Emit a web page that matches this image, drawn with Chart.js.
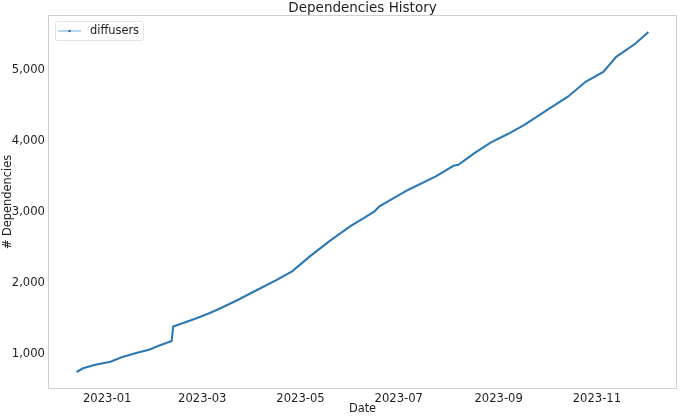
<!DOCTYPE html>
<html>
<head>
<meta charset="utf-8">
<script src="https://cdn.jsdelivr.net/npm/chart.js@4.4.1/dist/chart.umd.min.js"></script>
<style>
  html, body { margin: 0; padding: 0; background: #fff; }
  #wrap { width: 680px; height: 417px; position: relative; }
</style>
</head>
<body>
<div id="wrap"><canvas id="depChart"></canvas></div>
<script>
// values
const dates = [
  '2022-12-13', '2022-12-17', '2022-12-24', '2023-01-03', '2023-01-10',
  '2023-01-19', '2023-01-27', '2023-02-02', '2023-02-10', '2023-02-11',
  '2023-02-19', '2023-02-25', '2023-03-05', '2023-03-12', '2023-03-23',
  '2023-04-04', '2023-04-16', '2023-04-26', '2023-05-07', '2023-05-19',
  '2023-06-01', '2023-06-09', '2023-06-16', '2023-06-19', '2023-07-07',
  '2023-07-24', '2023-08-04', '2023-08-07', '2023-08-17', '2023-08-27',
  '2023-09-07', '2023-09-17', '2023-10-01', '2023-10-14', '2023-10-25',
  '2023-11-05', '2023-11-13', '2023-11-25', '2023-12-03'
];
const dependencies = [
  752, 804, 850, 896, 958,
  1018, 1065, 1121, 1188, 1393,
  1457, 1505, 1575, 1645, 1766,
  1906, 2046, 2173, 2383, 2595,
  2804, 2915, 3014, 3084, 3318,
  3505, 3655, 3669, 3833, 3982,
  4105, 4230, 4440, 4627, 4837,
  4977, 5188, 5376, 5538
];
const seriesName = 'diffusers';
const chartTitle = 'Dependencies History';
const tickDates = ['2023-01-01', '2023-03-01', '2023-05-01', '2023-07-01', '2023-09-01', '2023-11-01'];
const tickLabels = ['2023-01', '2023-03', '2023-05', '2023-07', '2023-09', '2023-11'];
const yTicks = [1000, 2000, 3000, 4000, 5000];

const FONT = 'DejaVu Sans';
const TEXT = '#1e1e1e';
const BLUE = '#1f77b4';
const TICK_SIZE = 11.6;

function toMs(d) {
  const p = d.split('-');
  return Date.UTC(+p[0], +p[1] - 1, +p[2]);
}

const points = dates.map((d, i) => ({ x: toMs(d), y: dependencies[i] }));

// matplotlib-like 5% margins
const xs = points.map(p => p.x);
const xMin = Math.min(...xs), xMax = Math.max(...xs);
const yMin = Math.min(...dependencies), yMax = Math.max(...dependencies);
const xPad = (xMax - xMin) * 0.05, yPad = (yMax - yMin) * 0.05;

// frame on all four sides, title over the axes, legend box
const framePlugin = {
  id: 'frame',
  afterDatasetsDraw(chart) {
    const { ctx, chartArea: a } = chart;
    ctx.save();
    ctx.strokeStyle = '#cfcfcf';
    ctx.lineWidth = 1;
    ctx.strokeRect(a.left + 0.5, a.top + 0.5, a.right - a.left - 1, a.bottom - a.top - 1);

    // title, centred on the plot area like matplotlib
    ctx.fillStyle = TEXT;
    ctx.font = '13.5px "' + FONT + '"';
    ctx.textAlign = 'center';
    ctx.textBaseline = 'middle';
    ctx.fillText(chartTitle, (a.left + a.right) / 2, 8);

    // legend
    const bx = a.left + 7, by = a.top + 6, bw = 88, bh = 19;
    ctx.fillStyle = 'rgba(255,255,255,0.8)';
    ctx.strokeStyle = '#e3e3e3';
    ctx.beginPath();
    ctx.roundRect(bx + 0.5, by + 0.5, bw, bh, 2);
    ctx.fill();
    ctx.stroke();
    const ly = by + bh / 2 + 0.5;
    ctx.strokeStyle = 'rgba(31,119,180,0.6)';
    ctx.lineWidth = 1;
    ctx.beginPath();
    ctx.moveTo(bx + 3, ly);
    ctx.lineTo(bx + 26, ly);
    ctx.stroke();
    ctx.fillStyle = BLUE;
    ctx.beginPath();
    ctx.arc(bx + 14.5, ly, 1.3, 0, Math.PI * 2);
    ctx.fill();
    ctx.fillStyle = TEXT;
    ctx.font = '11.4px "' + FONT + '"';
    ctx.textAlign = 'left';
    ctx.fillText(chart.data.datasets[0].label, bx + 35, ly);
    ctx.restore();
  }
};

const ctx = document.getElementById('depChart').getContext('2d');
new Chart(ctx, {
  type: 'line',
  data: {
    datasets: [{
      label: seriesName,
      data: points,
      borderColor: '#2b78b3',
      backgroundColor: BLUE,
      borderWidth: 2.1,
      pointRadius: 0,
      pointHoverRadius: 0,
      tension: 0,
      fill: false
    }]
  },
  options: {
    responsive: true,
    maintainAspectRatio: false,
    animation: false,
    layout: { padding: { top: 15, right: 3, bottom: 0, left: 0 } },
    plugins: {
      legend: { display: false },
      tooltip: { enabled: false },
      title: { display: false }
    },
    scales: {
      x: {
        type: 'linear',
        min: xMin - xPad,
        max: xMax + xPad,
        grid: { display: false, drawTicks: false },
        border: { display: false },
        afterBuildTicks(scale) {
          scale.ticks = tickDates.map(d => ({ value: toMs(d) }));
        },
        afterFit(scale) { scale.height = 28; },
        ticks: {
          color: TEXT,
          padding: 3.5,
          maxRotation: 0,
          autoSkip: false,
          font: { family: FONT, size: TICK_SIZE },
          callback: (v, i) => tickLabels[i]
        },
        title: {
          display: true,
          text: 'Date',
          color: TEXT,
          font: { family: FONT, size: 11.4 },
          padding: { top: 0, bottom: 1.2 }
        }
      },
      y: {
        type: 'linear',
        min: yMin - yPad,
        max: yMax + yPad,
        grid: { display: false, drawTicks: false },
        border: { display: false },
        afterBuildTicks(scale) {
          scale.ticks = yTicks.map(v => ({ value: v }));
        },
        afterFit(scale) { scale.width = 48; },
        ticks: {
          color: TEXT,
          padding: 3,
          font: { family: FONT, size: TICK_SIZE },
          callback: v => v.toLocaleString('en-US')
        },
        title: {
          display: true,
          text: '# Dependencies',
          color: TEXT,
          font: { family: FONT, size: 11.4 },
          padding: { top: 1.4, bottom: 0 }
        }
      }
    }
  },
  plugins: [framePlugin]
});
</script>
</body>
</html>
